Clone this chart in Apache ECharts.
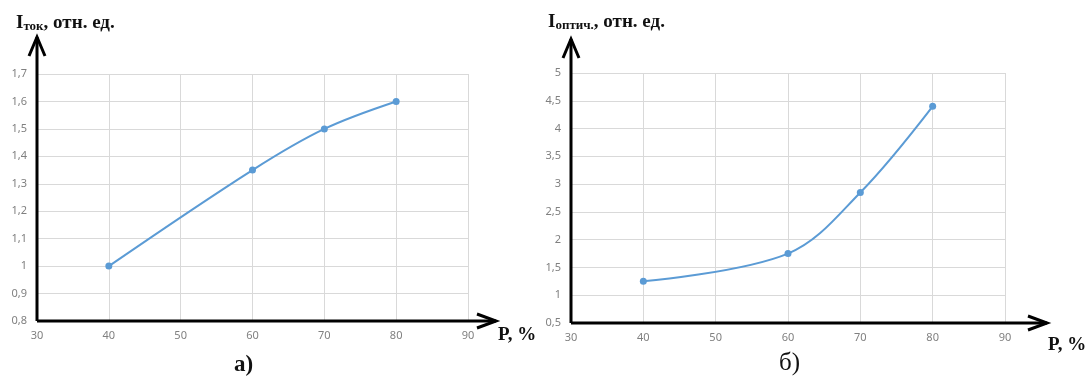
<!DOCTYPE html>
<html>
<head>
<meta charset="utf-8">
<script src="https://cdn.jsdelivr.net/npm/echarts@6/dist/echarts.min.js"></script>
<style>
  html, body { margin: 0; padding: 0; background: #fff; }
  #main { width: 1089px; height: 376px; }
</style>
</head>
<body>
<div id="main"></div>
<script>
// chart а) - current
const pressureA = [40, 60, 70, 80]
const currentA = [1.0, 1.35, 1.5, 1.6]
// chart б) - optical
const pressureB = [40, 60, 70, 80]
const opticalB = [1.25, 1.75, 2.85, 4.4]

const xTicks = { min: 30, max: 90, interval: 10 }
const yTicksA = { min: 0.8, max: 1.7, interval: 0.1 }
const yTicksB = { min: 0.5, max: 5, interval: 0.5 }

const serif = '"Liberation Serif", "DejaVu Serif", serif'
const labelColor = '#808080'
const lineColor = '#5b9bd5'

let fmt = function (v) {
  return String(Math.round(v * 10) / 10).replace('.', ',')
}

let xAxisBase = function (gridIndex) {
  return {
    type: 'value',
    gridIndex: gridIndex,
    min: xTicks.min,
    max: xTicks.max,
    interval: xTicks.interval,
    axisLine: { show: false },
    axisTick: { show: false },
    axisLabel: { color: labelColor, fontSize: 11, fontFamily: 'Noto Sans', margin: 9 },
    splitLine: { show: true, lineStyle: { color: '#d9d9d9', width: 1 } }
  }
}

let yAxisBase = function (gridIndex, ticks) {
  return {
    type: 'value',
    gridIndex: gridIndex,
    min: ticks.min,
    max: ticks.max,
    interval: ticks.interval,
    axisLine: { show: false },
    axisTick: { show: false },
    axisLabel: { color: labelColor, fontSize: 11, fontFamily: 'Noto Sans', margin: 10, formatter: fmt },
    splitLine: { show: true, lineStyle: { color: '#d9d9d9', width: 1 } }
  }
}

let pairs = function (xs, ys) {
  return xs.map((x, i) => [x, ys[i]])
}

let seriesBase = function (idx, data) {
  return {
    type: 'line',
    xAxisIndex: idx,
    yAxisIndex: idx,
    data: data,
    smooth: 0.35,
    symbol: 'circle',
    symbolSize: 7,
    lineStyle: { color: lineColor, width: 2 },
    itemStyle: { color: lineColor },
    animation: false
  }
}

let bigText = { fontFamily: serif, fontWeight: 'bold', fontSize: 19, color: '#111' }
let subText = { fontFamily: serif, fontWeight: 'bold', fontSize: 13, color: '#111', verticalAlign: 'bottom' }

let chart = echarts.init(document.getElementById('main'))
let option = {
  backgroundColor: '#fff',
  animation: false,
  grid: [
    { left: 37, right: 621, top: 74, bottom: 55 },
    { left: 571, right: 84, top: 73, bottom: 53 }
  ],
  xAxis: [xAxisBase(0), xAxisBase(1)],
  yAxis: [yAxisBase(0, yTicksA), yAxisBase(1, yTicksB)],
  series: [
    seriesBase(0, pairs(pressureA, currentA)),
    seriesBase(1, pairs(pressureB, opticalB))
  ],
  title: [
    {
      left: 11, top: 9,
      text: '{a|I}{b|ток}{a|, отн. ед.}',
      textStyle: { rich: { a: bigText, b: subText } }
    },
    {
      left: 543, top: 8,
      text: '{a|I}{b|оптич.}{a|, отн. ед.}',
      textStyle: { rich: { a: bigText, b: subText } }
    }
  ]
}
chart.setOption(option)

// black axes with open arrowheads, placed from the axis scales
let arrowAxes = function (gi, yMin, yMax, xExtra, yExtra) {
  let o = chart.convertToPixel({ gridIndex: gi }, [xTicks.min, yMin])
  let e = chart.convertToPixel({ gridIndex: gi }, [xTicks.max, yMax])
  let tipX = e[0] + xExtra
  let tipY = e[1] - yExtra
  let st = { stroke: '#000', lineWidth: 3, fill: null }
  return [
    { type: 'polyline', shape: { points: [[o[0], o[1]], [tipX, o[1]]] }, style: st },
    { type: 'polyline', shape: { points: [[tipX - 19, o[1] - 7], [tipX, o[1]], [tipX - 19, o[1] + 7]] }, style: st },
    { type: 'polyline', shape: { points: [[o[0], o[1]], [o[0], tipY]] }, style: st },
    { type: 'polyline', shape: { points: [[o[0] - 8, tipY + 19], [o[0], tipY], [o[0] + 8, tipY + 19]] }, style: st }
  ]
}

let g = []
g = g.concat(arrowAxes(0, yTicksA.min, yTicksA.max, 28, 37))
g = g.concat(arrowAxes(1, yTicksB.min, yTicksB.max, 42, 34))
g.push({ type: 'text', left: 498, top: 326, style: { text: 'P, %', font: 'bold 19px ' + serif, fill: '#111' } })
g.push({ type: 'text', left: 1048, top: 336, style: { text: 'P, %', font: 'bold 19px ' + serif, fill: '#111' } })
g.push({ type: 'text', left: 234, top: 354, style: { text: 'а)', font: 'bold 23px ' + serif, fill: '#111' } })
g.push({ type: 'text', left: 779, top: 351, style: { text: 'б)', font: '25px ' + serif, fill: '#111' } })
chart.setOption({ graphic: g })
</script>
</body>
</html>
